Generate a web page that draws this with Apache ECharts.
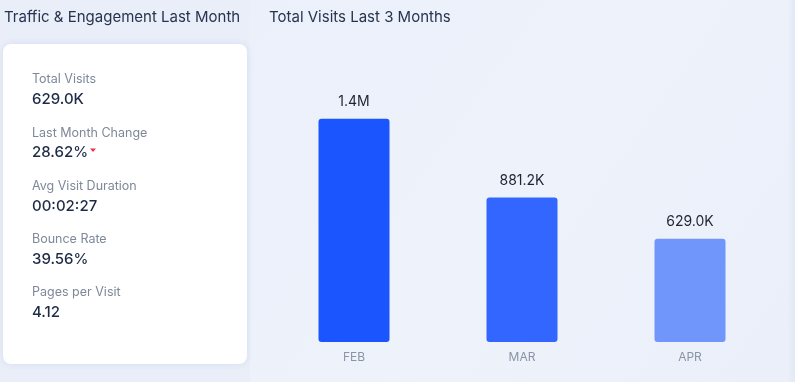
<!DOCTYPE html>
<html>
<head>
<meta charset="utf-8">
<script src="https://cdn.jsdelivr.net/npm/echarts@6/dist/echarts.min.js"></script>
<style>
html,body{margin:0;padding:0;background:#E9EEF8;}
#c{width:795px;height:382px;}
</style>
</head>
<body>
<div id="c"></div>
<script>
const months = ['FEB', 'MAR', 'APR'];
const visits = [1362000, 881200, 629000];
const visitLabels = ['1.4M', '881.2K', '629.0K'];
const barColors = ['#1B55FE', '#3366FF', '#7096FB'];
const statNames = ['Total Visits', 'Last Month Change', 'Avg Visit Duration', 'Bounce Rate', 'Pages per Visit'];
const statValues = ['629.0K', '28.62%', '00:02:27', '39.56%', '4.12'];

const FONT = 'Inter, "Noto Sans", sans-serif';
const chart = echarts.init(document.getElementById('c'), null, {renderer: 'canvas'});

const graphics = [
  {type: 'rect', z: -10, shape: {x: 250, y: 0, width: 545, height: 382},
   style: {fill: new echarts.graphic.LinearGradient(0, 0, 1, 1, [
     {offset: 0, color: '#EBF0FA'}, {offset: 0.5, color: '#EEF2FB'}, {offset: 1, color: '#EAEFF9'}])}},
  {type: 'rect', z: -9, shape: {x: 788, y: 0, width: 7, height: 382},
   style: {fill: new echarts.graphic.LinearGradient(0, 0, 1, 0, [
     {offset: 0, color: 'rgba(225,231,243,0)'}, {offset: 1, color: '#E3E9F5'}])}},
  {type: 'text', left: 4, top: 10, style: {text: 'Traffic & Engagement Last Month', fill: '#26344F', font: '15px ' + FONT}},
  {type: 'text', left: 269, top: 10, style: {text: 'Total Visits Last 3 Months', fill: '#26344F', font: '15px ' + FONT}},
  {type: 'rect', z: 1, shape: {x: 3, y: 44, width: 244, height: 320, r: 8},
   style: {fill: '#FFFFFF', shadowBlur: 6, shadowColor: 'rgba(150,170,210,0.25)'}}
];
statNames.forEach(function (n, i) {
  const y = 73 + i * 53.3;
  graphics.push({type: 'text', z: 2, x: 32, y: y, style: {text: n, fill: '#7E8899', font: '12.5px ' + FONT}});
  graphics.push({type: 'text', z: 2, x: 32, y: y + 19, style: {text: statValues[i], fill: '#1E2B45', font: '500 15px ' + FONT}});
});
graphics.push({type: 'polygon', z: 2, shape: {points: [[90, 148.5], [96, 148.5], [93, 152]]}, style: {fill: '#F0304A'}});

chart.setOption({
  animation: false,
  graphic: graphics,
  grid: {left: 270, right: 21, top: 96, bottom: 40},
  xAxis: {
    type: 'category', data: months,
    axisLine: {show: false}, axisTick: {show: false},
    axisLabel: {color: '#8A94A5', fontSize: 12, fontFamily: FONT, margin: 9}
  },
  yAxis: {type: 'value', min: 0, max: 1500000, show: false, splitLine: {show: false}},
  series: [{
    type: 'bar', barWidth: 71,
    data: visits.map(function (v, i) {
      return {value: v, itemStyle: {color: barColors[i], borderRadius: 3},
        label: {formatter: visitLabels[i]}};
    }),
    label: {show: true, position: 'top', distance: 10, color: '#1F2430', fontSize: 14, fontFamily: FONT}
  }]
});
</script>
</body>
</html>
